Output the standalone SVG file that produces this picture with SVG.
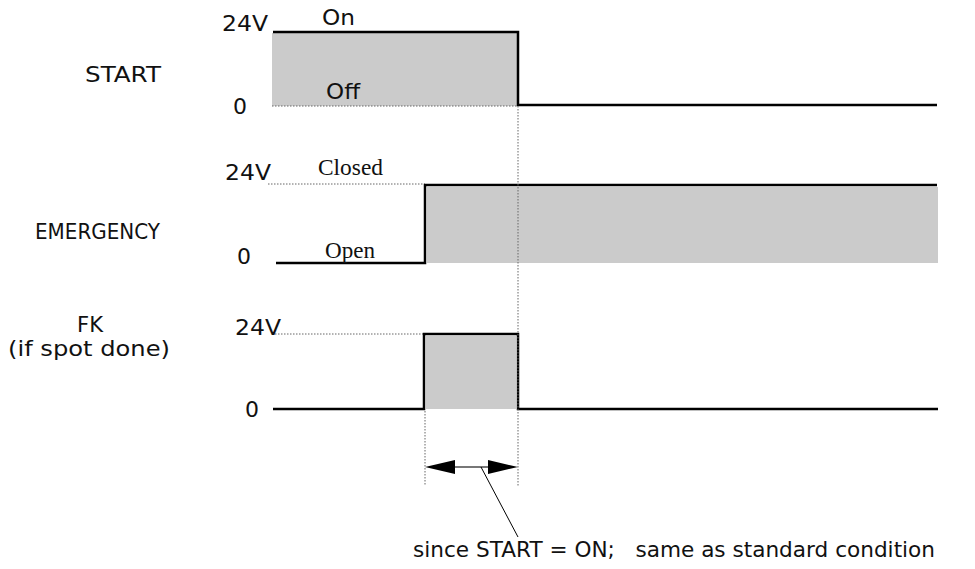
<svg xmlns="http://www.w3.org/2000/svg" width="975" height="569" viewBox="0 0 975 569">
<style>
.t{font-family:"DejaVu Sans","Verdana",sans-serif;font-size:21px;fill:#111}
.s{font-family:"Liberation Serif","Times New Roman",serif;font-size:23px;fill:#111}
.sig{fill:none;stroke:#000;stroke-width:2.5}
.fill{fill:#cbcbcb}
.dot{fill:none;stroke:#666;stroke-width:1;stroke-dasharray:1.5,1.5}
</style>
<defs>
<marker id="ah" viewBox="0 0 30 14" refX="30" refY="7" markerWidth="30" markerHeight="14" markerUnits="userSpaceOnUse" orient="auto-start-reverse">
<path d="M0,0 L30,7 L0,14 Z" fill="#000"/>
</marker>
</defs>
<g id="start">
<rect class="fill" x="272" y="33" width="245" height="73"/>
<line class="dot" x1="272" y1="106" x2="517" y2="106"/>
<path class="sig" d="M273,32 H518 V105 H937"/>
<text class="t" x="222" y="31" textLength="46" lengthAdjust="spacingAndGlyphs">24V</text>
<text class="t" x="322" y="25" textLength="33" lengthAdjust="spacingAndGlyphs">On</text>
<text class="t" x="326" y="99" textLength="34" lengthAdjust="spacingAndGlyphs">Off</text>
<text class="t" x="233" y="114" textLength="14" lengthAdjust="spacingAndGlyphs">0</text>
<text class="t" x="85" y="82" textLength="76" lengthAdjust="spacingAndGlyphs">START</text>
</g>
<g id="emergency">
<rect class="fill" x="427" y="187" width="511" height="76"/>
<line class="dot" x1="268" y1="184" x2="425" y2="184"/>
<path class="sig" d="M276,263 H425 V185 H937"/>
<text class="t" x="225" y="180" textLength="46" lengthAdjust="spacingAndGlyphs">24V</text>
<text class="s" x="318" y="175" textLength="65" lengthAdjust="spacingAndGlyphs">Closed</text>
<text class="t" x="35" y="239" textLength="125" lengthAdjust="spacingAndGlyphs">EMERGENCY</text>
<text class="t" x="237" y="264" textLength="14" lengthAdjust="spacingAndGlyphs">0</text>
<text class="s" x="325" y="258" textLength="50" lengthAdjust="spacingAndGlyphs">Open</text>
</g>
<g id="fk">
<rect class="fill" x="426" y="336" width="90" height="73"/>
<line class="dot" x1="272" y1="334" x2="424" y2="334"/>
<path class="sig" d="M273,409 H424 V334 H518 V409 H938"/>
<text class="t" x="235" y="335" textLength="46" lengthAdjust="spacingAndGlyphs">24V</text>
<text class="t" x="77" y="332" textLength="26" lengthAdjust="spacingAndGlyphs">FK</text>
<text class="t" x="8" y="356" textLength="162" lengthAdjust="spacingAndGlyphs">(if spot done)</text>
<text class="t" x="245" y="417" textLength="14" lengthAdjust="spacingAndGlyphs">0</text>
</g>
<g id="connectors">
<line class="dot" x1="518" y1="106" x2="518" y2="486"/>
<line class="dot" x1="425" y1="411" x2="425" y2="485"/>
<line x1="454" y1="467" x2="489" y2="467" stroke="#777" stroke-width="2"/>
<line x1="455" y1="467" x2="425" y2="467" stroke="none" marker-end="url(#ah)"/>
<line x1="488" y1="467" x2="518" y2="467" stroke="none" marker-end="url(#ah)"/>
<line x1="481" y1="467" x2="518" y2="537" stroke="#000" stroke-width="1"/>
<text class="t" x="413" y="557" xml:space="preserve" textLength="522" lengthAdjust="spacingAndGlyphs">since START = ON;   same as standard condition</text>
</g>
</svg>
